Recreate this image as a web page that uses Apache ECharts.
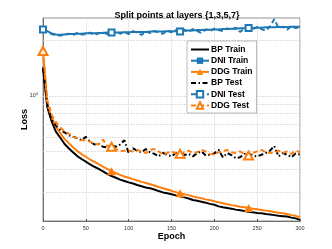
<!DOCTYPE html>
<html><head><meta charset="utf-8">
<script src="https://cdn.jsdelivr.net/npm/echarts@6/dist/echarts.min.js"></script>
<style>html,body{margin:0;padding:0;background:#fff}#c{width:332px;height:249px}</style>
</head><body><div id="c"></div>
<script>
const epochs = [0,5,10,15,20,25,30,35,40,45,50,55,60,65,70,75,80,85,90,95,100,105,110,115,120,125,130,135,140,145,150,155,160,165,170,175,180,185,190,195,200,205,210,215,220,225,230,235,240,245,250,255,260,265,270,275,280,285,290,295,300];
const markerEpochs = [0,80,160,240];
const xTicks = [0,50,100,150,200,250,300];
const yMinorGrid = [0.3,0.4,0.5,0.6,0.7,0.8,0.9,1,2];

const bpTrain = [1.42,0.87,0.73,0.64,0.595,0.55,0.52,0.495,0.472,0.455,0.44,0.425,0.413,0.402,0.39,0.378,0.368,0.36,0.352,0.346,0.34,0.335,0.329,0.324,0.319,0.316,0.311,0.305,0.30,0.297,0.293,0.289,0.286,0.282,0.278,0.273,0.27,0.267,0.264,0.26,0.257,0.252,0.249,0.247,0.245,0.242,0.24,0.238,0.236,0.234,0.232,0.231,0.229,0.228,0.226,0.224,0.223,0.222,0.219,0.217,0.213];
const dniTrain = [2.29,2.24,2.18,2.15,2.14,2.15,2.16,2.16,2.17,2.17,2.18,2.18,2.18,2.19,2.19,2.2,2.2,2.2,2.2,2.21,2.21,2.22,2.22,2.22,2.22,2.23,2.23,2.23,2.23,2.24,2.24,2.24,2.25,2.25,2.26,2.26,2.27,2.27,2.28,2.28,2.29,2.29,2.3,2.3,2.31,2.31,2.32,2.32,2.33,2.33,2.34,2.34,2.35,2.35,2.35,2.36,2.36,2.36,2.37,2.37,2.37];
const ddgTrain = [1.75,0.90,0.77,0.68,0.63,0.585,0.555,0.527,0.502,0.484,0.468,0.452,0.439,0.427,0.414,0.402,0.391,0.382,0.373,0.366,0.36,0.354,0.348,0.342,0.337,0.332,0.327,0.321,0.316,0.311,0.306,0.301,0.297,0.293,0.29,0.285,0.282,0.279,0.275,0.272,0.269,0.265,0.262,0.259,0.256,0.254,0.251,0.249,0.247,0.245,0.243,0.241,0.239,0.237,0.235,0.233,0.231,0.229,0.226,0.224,0.22];
const bpTest = [1.42,0.9,0.745,0.69,0.655,0.635,0.612,0.60,0.59,0.575,0.60,0.565,0.545,0.55,0.53,0.525,0.54,0.53,0.545,0.575,0.49,0.52,0.505,0.495,0.515,0.495,0.485,0.47,0.49,0.48,0.47,0.49,0.5,0.478,0.485,0.47,0.49,0.5,0.475,0.48,0.488,0.51,0.465,0.49,0.478,0.46,0.465,0.485,0.49,0.475,0.47,0.48,0.49,0.505,0.535,0.47,0.49,0.48,0.465,0.488,0.48];
const dniTest = [2.29,2.22,2.16,2.13,2.12,2.14,2.17,2.13,2.19,2.15,2.16,2.2,2.14,2.18,2.21,2.16,2.2,2.23,2.17,2.22,2.16,2.24,2.2,2.14,2.23,2.19,2.25,2.2,2.17,2.26,2.21,2.27,2.23,2.28,2.22,2.3,2.24,2.19,2.29,2.25,2.31,2.27,2.24,2.32,2.28,2.34,2.22,2.31,2.33,2.29,2.36,2.3,2.25,2.38,2.6,2.33,2.37,2.28,2.39,2.33,2.36];
const ddgTest = [1.75,0.95,0.79,0.72,0.675,0.645,0.625,0.6,0.59,0.575,0.575,0.565,0.55,0.545,0.58,0.535,0.53,0.515,0.5,0.505,0.505,0.5,0.51,0.5,0.49,0.51,0.515,0.5,0.48,0.49,0.5,0.488,0.485,0.495,0.505,0.49,0.495,0.51,0.5,0.485,0.48,0.495,0.5,0.51,0.495,0.49,0.5,0.485,0.475,0.49,0.5,0.51,0.495,0.49,0.492,0.505,0.49,0.5,0.485,0.505,0.495];

const FONT = '"Liberation Sans", Arial, Helvetica, sans-serif';
const BLUE = '#1f77b4', ORANGE = '#ff7f0e', BLACK = '#000000';

function mk(name, vals, color, dash, symbol, size, z) {
  return {
    name: name, type: 'line', z: z,
    data: epochs.map((e, i) => [e, vals[i]]),
    symbol: symbol,
    symbolSize: function (v) { return markerEpochs.indexOf(v[0]) >= 0 ? size : 0; },
    showAllSymbol: true,
    lineStyle: { color: color, width: 2, type: dash },
    itemStyle: { color: color, borderColor: color, borderWidth: symbol.indexOf('empty') === 0 ? 1.5 : 0 },
    emphasis: { disabled: true },
    animation: false
  };
}

const series = [
  mk('BP Train', bpTrain, BLACK, 'solid', 'none', 0, 2),
  mk('DNI Train', dniTrain, BLUE, 'solid', 'rect', 6, 3),
  mk('DDG Train', ddgTrain, ORANGE, 'solid', 'triangle', [9, 8], 4),
  mk('BP Test', bpTest, BLACK, [5, 2.5, 1.5, 2.5], 'none', 0, 5),
  mk('DNI Test', dniTest, BLUE, [5, 3], 'emptyRect', 6, 6),
  mk('DDG Test', ddgTest, ORANGE, [5, 3], 'emptyTriangle', [9, 8], 7)
];
series.push({
  type: 'line', data: [], z: 1, silent: true,
  markLine: {
    z: 1, silent: true, symbol: ['none', 'none'], label: { show: false },
    lineStyle: { color: '#c8c8c8', width: 0.8, type: [1.5, 1.5] },
    data: yMinorGrid.map(v => ({ yAxis: v }))
  }
});

const hidden = { color: 'rgba(0,0,0,0)', borderColor: 'rgba(0,0,0,0)', borderWidth: 0 };

const chart = echarts.init(document.getElementById('c'), null, { renderer: 'canvas' });
chart.setOption({
  animation: false,
  backgroundColor: '#fff',
  textStyle: { fontFamily: FONT },
  title: {
    text: 'Split points at layers {1,3,5,7}', left: 172, top: 6, textAlign: 'center',
    textStyle: { fontSize: 9, fontWeight: 'bold', color: '#000', fontFamily: FONT }
  },
  grid: { left: 43, right: 32, top: 18, bottom: 28, show: true, borderColor: '#777', borderWidth: 0.8, backgroundColor: 'transparent' },
  xAxis: {
    type: 'value', min: 0, max: 300, interval: 50,
    name: 'Epoch', nameLocation: 'middle', nameGap: 11, nameMoveOverlap: false,
    nameTextStyle: { fontSize: 9, fontWeight: 'bold', color: '#000', fontFamily: FONT },
    axisLine: { lineStyle: { color: '#555', width: 0.8 } },
    axisTick: { inside: true, length: 2, lineStyle: { color: '#555' } },
    axisLabel: { fontSize: 5.5, color: '#333', margin: 4, fontFamily: FONT,
      formatter: function (v) { return xTicks.indexOf(v) >= 0 ? String(v) : ''; } },
    splitLine: { show: true, lineStyle: { color: '#e4e4e4', width: 0.8 } }
  },
  yAxis: {
    type: 'log', logBase: 10, min: 0.21, max: 2.64,
    name: 'Loss', nameLocation: 'middle', nameGap: 14, nameRotate: 90, nameMoveOverlap: false,
    nameTextStyle: { fontSize: 9, fontWeight: 'bold', color: '#000', fontFamily: FONT },
    axisLine: { show: true, lineStyle: { color: '#555', width: 0.8 } },
    axisTick: { show: false },
    splitLine: { show: false },
    axisLabel: {
      margin: 5, color: '#333', fontFamily: FONT,
      formatter: function (v) { return Math.abs(v - 1) < 1e-6 ? '{b|10}{s|0}' : ''; },
      rich: { b: { fontSize: 5.5, color: '#333' }, s: { fontSize: 3.8, color: '#333', padding: [0, 0, 3, 0] } }
    }
  },
  legend: {
    orient: 'vertical', left: 187, top: 41,
    padding: [4, 4, 3, 3], itemWidth: 18, itemHeight: 8, itemGap: 2.2,
    borderColor: '#aaa', borderWidth: 0.8, backgroundColor: '#fff',
    textStyle: { fontSize: 8.5, fontWeight: 'bold', color: '#000', fontFamily: FONT, lineHeight: 8, padding: [0, 0, 0, -3] },
    data: [
      { name: 'BP Train', itemStyle: hidden },
      'DNI Train', 'DDG Train',
      { name: 'BP Test', itemStyle: hidden },
      'DNI Test', 'DDG Test'
    ]
  },
  series: series
});
</script>
</body></html>
